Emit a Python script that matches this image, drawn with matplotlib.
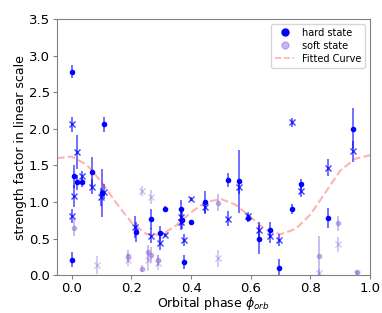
import matplotlib
matplotlib.use('Agg')
import matplotlib.pyplot as plt
from matplotlib.lines import Line2D
import numpy as np

# hard state, dot markers: phase, strength, error
hard_dot_x = [0.000, 0.107, 0.007, 0.016, 0.033, 0.068, 0.100, 0.214, 0.000, 0.267,
              0.295, 0.311, 0.367, 0.370, 0.399, 0.376, 0.446, 0.523, 0.561, 0.590,
              0.628, 0.664, 0.694, 0.737, 0.768, 0.858, 0.943]
hard_dot_y = [2.78, 2.06, 1.35, 1.27, 1.27, 1.41, 1.12, 0.59, 0.21, 0.77,
              0.57, 0.91, 0.91, 0.75, 0.72, 0.18, 1.00, 1.30, 1.28, 0.78,
              0.49, 0.62, 0.10, 0.90, 1.24, 0.78, 2.00]
hard_dot_err = [0.09, 0.10, 0.16, 0.10, 0.06, 0.20, 0.33, 0.14, 0.10, 0.14,
                0.10, 0.03, 0.12, 0.12, 0.03, 0.10, 0.15, 0.10, 0.43, 0.05,
                0.20, 0.10, 0.12, 0.07, 0.08, 0.14, 0.28]

# hard state, x markers
hard_x_x = [0.000, 0.016, 0.033, 0.007, 0.000, 0.068, 0.098, 0.107, 0.211, 0.267,
            0.295, 0.312, 0.367, 0.367, 0.377, 0.399, 0.446, 0.523, 0.561, 0.590,
            0.628, 0.664, 0.696, 0.737, 0.768, 0.858, 0.943]
hard_x_y = [2.06, 1.68, 1.35, 1.08, 0.81, 1.21, 1.07, 1.14, 0.66, 0.54,
            0.44, 0.55, 0.79, 0.72, 0.48, 1.04, 0.93, 0.77, 1.21, 0.81,
            0.62, 0.54, 0.48, 2.09, 1.15, 1.47, 1.69]
hard_x_err = [0.10, 0.23, 0.08, 0.15, 0.10, 0.10, 0.12, 0.10, 0.15, 0.10,
              0.10, 0.03, 0.10, 0.10, 0.08, 0.03, 0.10, 0.10, 0.10, 0.05,
              0.10, 0.10, 0.08, 0.06, 0.08, 0.12, 0.15]

# soft state, dot markers
soft_dot_x = [0.007, 0.187, 0.234, 0.254, 0.267, 0.290, 0.491, 0.829, 0.891, 0.957]
soft_dot_y = [0.65, 0.26, 0.09, 0.31, 0.28, 0.20, 0.99, 0.26, 0.71, 0.04]
soft_dot_err = [0.12, 0.08, 0.05, 0.10, 0.10, 0.08, 0.12, 0.27, 0.10, 0.03]

# soft state, x markers
soft_x_x = [0.083, 0.187, 0.236, 0.267, 0.254, 0.290, 0.491, 0.829, 0.891, 0.957]
soft_x_y = [0.14, 0.21, 1.15, 1.07, 0.20, 0.17, 0.23, 0.03, 0.42, 0.02]
soft_x_err = [0.12, 0.08, 0.07, 0.10, 0.15, 0.10, 0.12, 0.05, 0.10, 0.03]

# fitted curve
fit_x = [-0.05, 0.0, 0.05, 0.1, 0.15, 0.2, 0.25, 0.3, 0.35, 0.4, 0.45,
         0.5, 0.55, 0.6, 0.65, 0.7, 0.75, 0.8, 0.85, 0.9, 0.95, 1.0]
fit_y = [1.60, 1.62, 1.51, 1.27, 0.98, 0.72, 0.56, 0.55, 0.68, 0.86, 1.00,
         1.04, 0.96, 0.79, 0.62, 0.56, 0.63, 0.83, 1.13, 1.43, 1.59, 1.64]

hard_color = 'blue'
soft_color = 'mediumpurple'

fig = plt.figure(figsize=(3.82, 3.13), dpi=100)
ax = fig.add_axes([0.149, 0.121, 0.820, 0.818])

ax.errorbar(hard_dot_x, hard_dot_y, yerr=hard_dot_err, fmt='o', ms=3, color=hard_color,
            ecolor=(0, 0, 1, 0.6), elinewidth=1.3)
ax.errorbar(hard_x_x, hard_x_y, yerr=hard_x_err, fmt='x', ms=5, mew=1, color=(0, 0, 1, 0.75),
            ecolor=(0, 0, 1, 0.6), elinewidth=1.3)
ax.errorbar(soft_dot_x, soft_dot_y, yerr=soft_dot_err, fmt='o', ms=3, color=soft_color,
            elinewidth=1.3, alpha=0.5)
ax.errorbar(soft_x_x, soft_x_y, yerr=soft_x_err, fmt='x', ms=5, mew=1, color=soft_color,
            elinewidth=1.3, alpha=0.4)
ax.plot(fit_x, fit_y, '--', color='red', alpha=0.3, lw=1.5)

ax.set_xlim(-0.05, 1.0)
ax.set_ylim(0, 3.5)
ax.set_xticks(np.arange(0, 1.01, 0.2))
ax.set_yticks(np.arange(0, 3.51, 0.5))
ax.tick_params(labelsize=9.5, length=3, pad=2, color='gray')
for s in ax.spines.values():
    s.set_color('gray')
ax.set_xlabel(r'Orbital phase $\phi_{orb}$', fontsize=9, labelpad=0)
ax.set_ylabel('strength factor in linear scale', fontsize=9, labelpad=1)

handles = [
    Line2D([], [], marker='o', ls='', ms=5, color=hard_color, label='hard state'),
    Line2D([], [], marker='o', ls='', ms=5, color=soft_color, alpha=0.5, label='soft state'),
    Line2D([], [], ls='--', color='red', alpha=0.3, lw=1.2, label='Fitted Curve'),
]
ax.legend(handles=handles, loc='upper right', fontsize=7, handlelength=2.0,
          borderpad=0.4, labelspacing=0.3, handletextpad=0.8)

fig.savefig('out.png', dpi=100)
